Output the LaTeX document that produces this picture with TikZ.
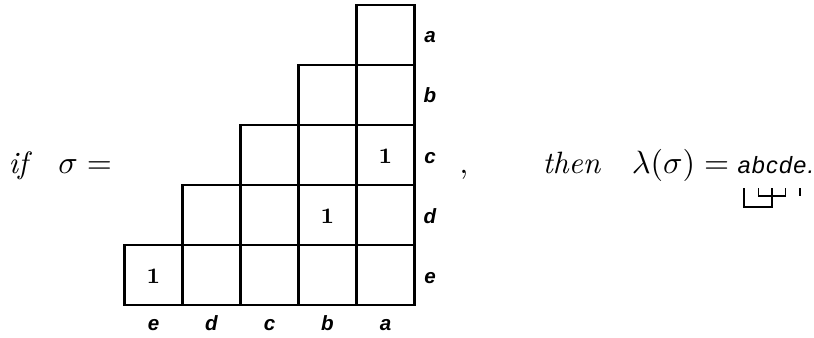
\documentclass[tikz,border=0pt]{standalone}
\usepackage{fontspec}
\newfontfamily\lblfont{Liberation Sans}
\usepackage{tikz}
\usetikzlibrary{calc}
\tikzset{
  cell/.style={draw, line width=0.8pt, minimum width=19.72pt, minimum height=20.4pt, inner sep=0pt},
  lab/.style={font=\lblfont\bfseries\itshape\fontsize{7}{8}\selectfont, anchor=base, inner sep=0pt},
  one/.style={font=\bfseries\fontsize{7.5}{9}\selectfont, anchor=base, inner sep=0pt},
  txt/.style={font=\fontsize{10.5}{12}\selectfont, anchor=base west, inner sep=0pt},
  wd/.style={font=\lblfont\itshape\fontsize{8}{9}\selectfont, anchor=base west, inner sep=0pt},
  brk/.style={line width=0.5pt},
}
\begin{document}
\begin{tikzpicture}[x=0.34pt,y=-0.34pt]
\useasboundingbox (0,0) rectangle (814,337);
% staircase of cells, row labels on the right
\foreach \rl [count=\i] in {a,b,c,d,e}{
  \foreach \cl [count=\j] in {e,d,c,b,a}{
    \ifnum\j>\numexpr5-\i\relax
      \node[cell] (\rl-\cl) at ({153.5+58*(\j-1)},{35+60*(\i-1)}) {};
    \fi
  }
  \node[lab] (row-\rl) at (430,{43+60*(\i-1)}) {\rl};
}
% column labels
\foreach \cl [count=\j] in {e,d,c,b,a}
  \node[lab] (col-\cl) at ({153.5+58*(\j-1)},330) {\cl};
% entries
\node[one] (one-c) at ($(c-a)+(0,8)$) {1};
\node[one] (one-d) at ($(d-b)+(0,8)$) {1};
\node[one] (one-e) at ($(e-e)+(0,8)$) {1};
% the sentence
\node[txt] (lhs) at (8,173) {$\textit{if}\quad\sigma =$};
\node[txt] (comma) at (459,173) {,};
\node[txt] (rhs) at (542,173) {\textit{then}\quad$\lambda(\sigma) =$};
\node[wd] (wa) at (737,173) {a};
\node[wd] (wb) at (wa.base east) {b};
\node[wd] (wc) at (wb.base east) {c};
\node[wd] (wd) at (wc.base east) {d};
\node[wd] (we) at (wd.base east) {e};
\node[wd] (wdot) at (we.base east) {.};
% pairing under the word
\draw[brk] ($(wa.base)+(0,15)$) -- ($(wa.base)+(0,34)$) -| ($(wc.base)+(0,15)$);
\draw[brk] ($(wb.base)+(0,15)$) -- ($(wb.base)+(0,23)$) -| ($(wd.base)+(0,15)$);
\draw[brk] ($(we.base)+(0,15)$) -- ($(we.base)+(0,23)$);
\end{tikzpicture}
\end{document}
